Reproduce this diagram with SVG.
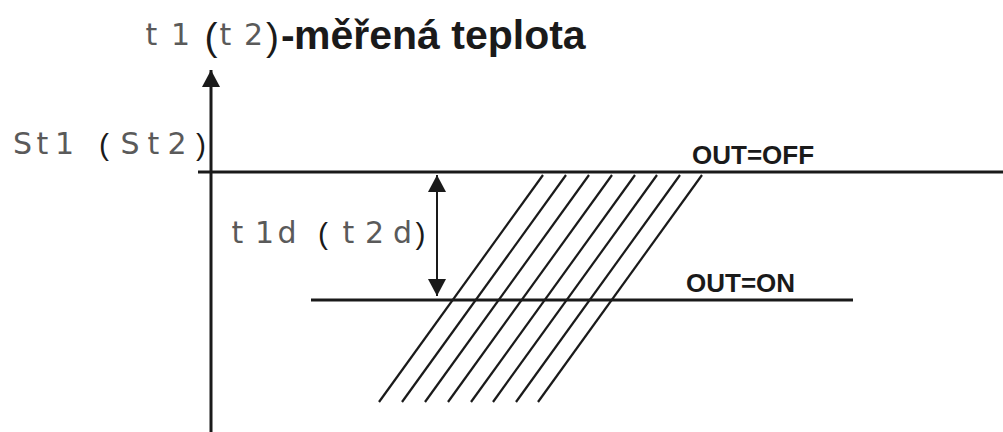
<svg xmlns="http://www.w3.org/2000/svg" width="1003" height="432" viewBox="0 0 1003 432">
<style>
.ln{stroke:#1a1a1a;fill:none;stroke-linecap:butt}
.seg{font-family:"DejaVu Sans",sans-serif;font-size:30px;fill:#5a5a5a;text-anchor:middle}
.par{font-family:"Liberation Sans",Arial,sans-serif;fill:#1a1a1a;text-anchor:middle}
.bold{font-family:"Liberation Sans",Arial,sans-serif;font-weight:bold;fill:#1a1a1a}
</style>
<defs>
<marker id="ah" markerUnits="userSpaceOnUse" markerWidth="18" markerHeight="18" viewBox="0 0 16 17" refX="16" refY="8.5" orient="auto-start-reverse">
<path d="M0,0 L16,8.5 L0,17 Z" fill="#1a1a1a"/>
</marker>
</defs>
<rect width="1003" height="432" fill="#ffffff"/>
<g id="title">
<text class="seg" x="151.5 180.5" y="45">t1</text>
<text class="par" font-size="39" x="211" y="50">(</text>
<text class="seg" x="225.5 253.5" y="45">t2</text>
<text class="par" font-size="39" x="272.5" y="50">)</text>
<text class="bold" font-size="41" x="281" y="49">-</text>
<text class="bold" font-size="41" x="294" y="49">měřená teplota</text>
</g>
<g id="connectors">
<line class="ln" x1="211" y1="432" x2="211" y2="70" stroke-width="3" marker-end="url(#ah)"/>
<line class="ln" x1="437" y1="175" x2="437" y2="296" stroke-width="2" marker-start="url(#ah)" marker-end="url(#ah)"/>
</g>
<g id="line-off">
<line class="ln" x1="198" y1="172" x2="1003" y2="172" stroke-width="3"/>
<text class="bold" font-size="26" x="692" y="164">OUT=OFF</text>
</g>
<g id="line-on">
<line class="ln" x1="311" y1="300" x2="853" y2="300" stroke-width="3"/>
<text class="bold" font-size="26" x="686" y="292">OUT=ON</text>
</g>
<g id="label-st">
<text class="seg" x="22.5 42.5 64.5" y="154">St1</text>
<text class="par" font-size="30" x="104" y="155">(</text>
<text class="seg" x="130 153.5 177" y="154">St2</text>
<text class="par" font-size="30" x="201" y="155">)</text>
</g>
<g id="label-td">
<text class="seg" x="237.5 264.5 287" y="243">t1d</text>
<text class="par" font-size="30" x="323" y="244">(</text>
<text class="seg" x="348.5 374.5 402.5" y="243">t2d</text>
<text class="par" font-size="30" x="420.5" y="244">)</text>
</g>
<g id="hatch" class="ln" stroke-width="2.2">
<line x1="543" y1="175" x2="379" y2="402"/>
<line x1="566" y1="175" x2="402" y2="402"/>
<line x1="589" y1="175" x2="425" y2="402"/>
<line x1="612" y1="175" x2="448" y2="402"/>
<line x1="635" y1="175" x2="471" y2="402"/>
<line x1="657" y1="175" x2="493" y2="402"/>
<line x1="680" y1="175" x2="516" y2="402"/>
<line x1="702" y1="175" x2="538" y2="402"/>
</g>
</svg>
